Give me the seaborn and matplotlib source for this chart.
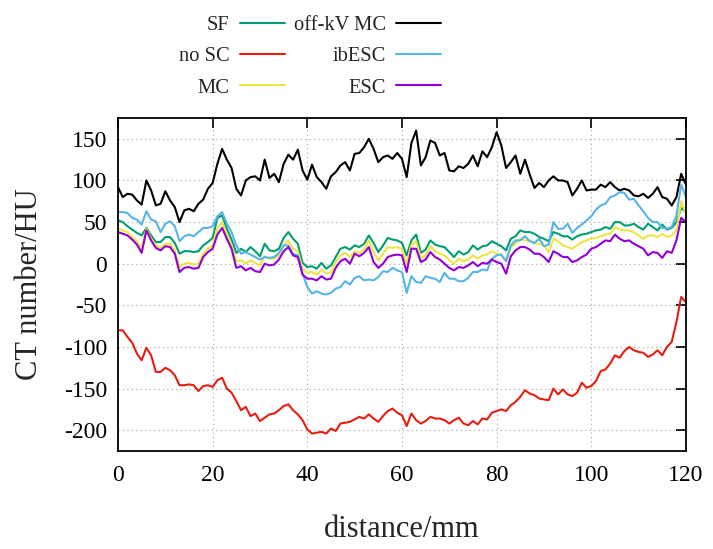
import numpy as np
import pandas as pd
import matplotlib
matplotlib.use("Agg")
import matplotlib.pyplot as plt
import seaborn as sns

distance = list(range(0, 121))

sf = [52, 50, 45, 41, 37, 34, 43, 34, 26, 26, 32, 32, 25, 12, 15, 15, 14, 15, 22, 26,
      31, 55, 58, 42, 29, 13, 18, 14, 20, 15, 9, 24, 16, 15, 18, 31, 38, 30, 24, 1,
      -4, -3, -6, 1, -6, -2, 8, 18, 20, 17, 22, 20, 24, 34, 25, 14, 22, 31, 29, 28,
      25, 10, 28, 35, 13, 17, 28, 23, 21, 20, 14, 8, 15, 11, 14, 22, 17, 21, 22, 27,
      24, 21, 16, 30, 33, 40, 38, 38, 36, 32, 30, 27, 38, 36, 33, 33, 29, 33, 35, 36,
      38, 40, 41, 44, 42, 50, 50, 46, 46, 48, 44, 41, 48, 44, 40, 47, 41, 43, 50, 67, 62]

no_sc = [-80, -80, -88, -95, -108, -116, -101, -110, -130, -130, -125, -128, -134, -146, -146,
         -145, -146, -153, -147, -146, -148, -140, -137, -150, -155, -165, -176, -172, -183, -180,
         -189, -185, -181, -180, -176, -171, -169, -176, -181, -188, -199, -204, -203, -202, -204,
         -198, -201, -192, -191, -190, -187, -184, -186, -181, -186, -190, -183, -177, -174, -179,
         -182, -195, -180, -188, -192, -189, -184, -186, -186, -188, -192, -188, -185, -192, -194,
         -189, -193, -186, -187, -179, -177, -175, -177, -170, -166, -160, -152, -156, -158, -162,
         -163, -164, -150, -157, -151, -157, -159, -155, -143, -149, -147, -141, -129, -127, -120,
         -110, -113, -105, -100, -104, -106, -107, -112, -109, -104, -110, -100, -94, -70, -40, -46]

mc = [42, 40, 38, 32, 27, 18, 42, 30, 22, 19, 24, 24, 16, -4, 0, 1, -1, 0, 12, 18,
      22, 42, 50, 35, 22, 3, 4, 0, 4, 1, -2, 9, 6, 6, 10, 22, 28, 18, 15, -6,
      -11, -10, -13, -7, -12, -10, 2, 10, 13, 8, 15, 13, 17, 28, 14, 4, 12, 20, 19, 20,
      18, 0, 23, 27, 7, 10, 21, 15, 12, 10, 4, 0, 6, 3, 5, 10, 6, 10, 11, 15,
      12, 10, 3, 20, 24, 30, 28, 28, 24, 24, 22, 14, 30, 27, 22, 20, 18, 22, 26, 28,
      30, 31, 33, 35, 36, 44, 41, 40, 40, 38, 34, 30, 34, 34, 32, 36, 32, 34, 40, 75, 60]

off_kv_mc = [92, 80, 84, 83, 76, 71, 100, 88, 70, 72, 87, 76, 68, 50, 64, 66, 63, 72, 77, 90,
             97, 120, 138, 125, 115, 90, 82, 100, 104, 105, 100, 125, 103, 108, 98, 120, 131, 125, 137, 112,
             101, 119, 104, 98, 90, 105, 110, 118, 122, 112, 132, 133, 140, 150, 138, 122, 128, 130, 126, 133,
             126, 104, 145, 160, 118, 128, 148, 145, 130, 133, 112, 111, 117, 115, 120, 130, 117, 135, 128, 140,
             158, 142, 115, 122, 130, 108, 125, 107, 91, 97, 92, 100, 105, 100, 100, 98, 82, 90, 100, 88,
             89, 89, 95, 92, 98, 92, 88, 90, 88, 82, 81, 84, 79, 84, 92, 80, 78, 70, 80, 108, 95]

ibesc = [62, 62, 61, 55, 53, 47, 63, 53, 51, 38, 48, 51, 45, 27, 33, 35, 33, 38, 43, 43,
         45, 57, 62, 48, 38, 22, 12, 14, 11, 8, 5, 8, 7, 8, 13, 22, 22, 12, 10, -12,
         -28, -36, -33, -36, -37, -35, -30, -28, -21, -25, -17, -15, -20, -19, -20, -16, -9, -10, -5, -8,
         -10, -35, -15, -22, -23, -15, -17, -18, -22, -11, -18, -18, -21, -21, -17, -10, -10, -7, -8, 6,
         10, 11, 3, 22, 28, 28, 33, 27, 25, 30, 21, 23, 50, 42, 42, 48, 37, 43, 47, 52,
         57, 65, 70, 72, 80, 82, 86, 85, 77, 78, 70, 63, 55, 50, 50, 43, 42, 44, 58, 95, 80]

esc = [38, 36, 34, 29, 23, 13, 40, 28, 19, 16, 21, 20, 12, -10, -5, -4, -6, -5, 8, 14,
       18, 35, 43, 30, 18, -5, -3, -8, -5, -9, -10, 0, -2, -1, 5, 15, 20, 10, 8, -13,
       -18, -18, -20, -15, -19, -18, -5, 3, 6, 0, 12, 9, 13, 20, 2, -5, 0, 8, 10, 11,
       10, -10, 18, 18, 2, 5, 14, 8, 5, 0, -5, -8, -4, -5, -2, 2, -3, 1, 0, 5,
       2, 0, -12, 9, 16, 20, 20, 17, 12, 12, 8, 2, 15, 12, 8, 8, 2, 4, 8, 11,
       18, 20, 24, 28, 27, 35, 30, 27, 28, 24, 21, 18, 10, 14, 13, 7, 15, 13, 28, 55, 50]

series_names = ["SF", "no SC", "MC", "off-kV MC", "ibESC", "ESC"]
series_values = [sf, no_sc, mc, off_kv_mc, ibesc, esc]
colors = ["#009e73", "#e51e10", "#f0e442", "#000000", "#56b4e9", "#9400d3"]

x_ticks = [0, 20, 40, 60, 80, 100, 120]
y_ticks = [-200, -150, -100, -50, 0, 50, 100, 150]

frames = []
for name, vals in zip(series_names, series_values):
    frames.append(pd.DataFrame({"distance": distance, "HU": vals, "series": name}))
df = pd.concat(frames, ignore_index=True)

sns.set_theme(style="white")
plt.rcParams["font.family"] = ["Liberation Serif", "DejaVu Serif"]

fig = plt.figure(figsize=(7.13, 5.49), dpi=100)
ax = fig.add_axes([0.1655, 0.1785, 0.7965, 0.6065])

sns.lineplot(data=df, x="distance", y="HU", hue="series", hue_order=series_names,
             palette=dict(zip(series_names, colors)), estimator=None, sort=False,
             linewidth=1.5, ax=ax, legend=True)

ax.set_xlim(0, 120)
ax.set_ylim(-225, 175)
ax.set_xticks(x_ticks)
ax.set_yticks(y_ticks)
ax.set_xticklabels([str(t) for t in x_ticks])
ax.set_yticklabels([str(t) for t in y_ticks])
ax.tick_params(axis="both", which="major", direction="in", length=7, width=1.2,
               labelsize=17, top=True, right=True, colors="black")
ax.tick_params(axis="x", pad=10)
ax.tick_params(axis="y", pad=8)
ax.grid(True, linestyle=(0, (1, 3)), color="#a0a0a0", linewidth=0.8)
for sp in ax.spines.values():
    sp.set_color("black")
    sp.set_linewidth(1.3)

ax.set_xlabel("distance/mm", fontsize=22, labelpad=21)
ax.set_ylabel("CT number/HU", fontsize=22, labelpad=14)

handles, labels = ax.get_legend_handles_labels()
ax.get_legend().remove()
leg = fig.legend(handles, labels, ncol=2, loc="center", bbox_to_anchor=(0.435, 0.897),
                 frameon=False, fontsize=14.8, markerfirst=False, handlelength=2.2,
                 handletextpad=0.5, columnspacing=0.4, labelspacing=0.58, borderpad=0)
for line in leg.get_lines():
    line.set_linewidth(1.5)

fig.savefig("out.png", dpi=100)
